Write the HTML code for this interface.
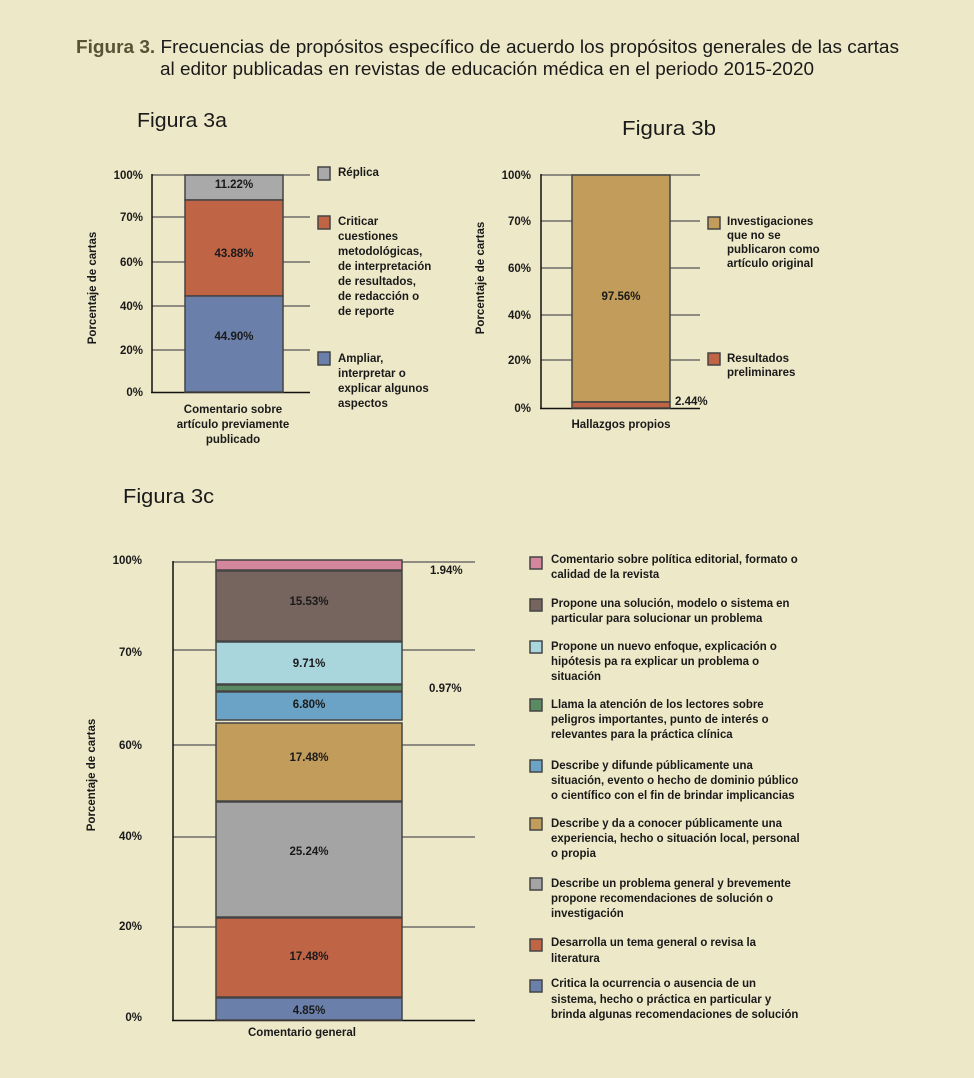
<!DOCTYPE html>
<html><head><meta charset="utf-8"><style>
html,body{margin:0;padding:0;background:#ede8c8;}
svg{display:block;}
text{font-family:"Liberation Sans",sans-serif;fill:#1a1a1a;}
.s{font-weight:bold;font-size:11.5px;}
.l{font-weight:bold;font-size:12px;}
</style></head><body>
<svg width="974" height="1078" viewBox="0 0 974 1078" xmlns="http://www.w3.org/2000/svg">
<rect width="974" height="1078" fill="#ede8c8"/>
<text x="76" y="53" font-size="18" textLength="823" lengthAdjust="spacingAndGlyphs"><tspan font-weight="bold" fill="#5a5236">Figura 3.</tspan> Frecuencias de propósitos específico de acuerdo los propósitos generales de las cartas</text>
<text x="160" y="75" font-size="18" textLength="654" lengthAdjust="spacingAndGlyphs">al editor publicadas en revistas de educación médica en el periodo 2015-2020</text>
<text x="137" y="127" font-size="20" textLength="90" lengthAdjust="spacingAndGlyphs">Figura 3a</text>
<text x="622" y="135" font-size="20" textLength="94" lengthAdjust="spacingAndGlyphs">Figura 3b</text>
<text x="123" y="503" font-size="20" textLength="91" lengthAdjust="spacingAndGlyphs">Figura 3c</text>

<!-- ===== 3a ===== -->
<g stroke="#555" stroke-width="1.3">
<line x1="152" y1="175" x2="310" y2="175"/><line x1="152" y1="217" x2="310" y2="217"/>
<line x1="152" y1="262" x2="310" y2="262"/><line x1="152" y1="306" x2="310" y2="306"/>
<line x1="152" y1="350" x2="310" y2="350"/>
</g>
<line x1="152" y1="174" x2="152" y2="393" stroke="#111" stroke-width="1.5"/>
<line x1="151" y1="392.5" x2="310" y2="392.5" stroke="#111" stroke-width="1.5"/>
<g stroke="#444" stroke-width="1.5">
<rect x="185" y="175" width="98" height="25" fill="#a9a9a9"/>
<rect x="185" y="200" width="98" height="96" fill="#c06446"/>
<rect x="185" y="296" width="98" height="96" fill="#6a80ab"/>
</g>
<g class="s" text-anchor="middle">
<text x="234" y="188">11.22%</text><text x="234" y="257">43.88%</text><text x="234" y="340">44.90%</text>
</g>
<g class="s" text-anchor="end">
<text x="143" y="179">100%</text><text x="143" y="221">70%</text><text x="143" y="266">60%</text>
<text x="143" y="310">40%</text><text x="143" y="354">20%</text><text x="143" y="396">0%</text>
</g>
<text class="s" transform="translate(96,288) rotate(-90)" text-anchor="middle">Porcentaje de cartas</text>
<g class="s" text-anchor="middle" font-weight="normal">
<text x="233" y="413">Comentario sobre</text><text x="233" y="428">artículo previamente</text><text x="233" y="443">publicado</text>
</g>
<g stroke="#444" stroke-width="1.5">
<rect x="318" y="167" width="12" height="13" fill="#a9a9a9"/>
<rect x="318" y="216" width="12" height="13" fill="#c06446"/>
<rect x="318" y="352" width="12" height="13" fill="#6a80ab"/>
</g>
<g class="s">
<text x="338" y="176">Réplica</text>
<text x="338" y="225">Criticar</text><text x="338" y="240">cuestiones</text><text x="338" y="255">metodológicas,</text>
<text x="338" y="270">de interpretación</text><text x="338" y="285">de resultados,</text><text x="338" y="300">de redacción o</text><text x="338" y="315">de reporte</text>
<text x="338" y="362">Ampliar,</text><text x="338" y="377">interpretar o</text><text x="338" y="392">explicar algunos</text><text x="338" y="407">aspectos</text>
</g>

<!-- ===== 3b ===== -->
<g stroke="#555" stroke-width="1.3">
<line x1="541" y1="175" x2="700" y2="175"/><line x1="541" y1="221" x2="700" y2="221"/>
<line x1="541" y1="268" x2="700" y2="268"/><line x1="541" y1="315" x2="700" y2="315"/>
<line x1="541" y1="360" x2="700" y2="360"/>
</g>
<line x1="541" y1="174" x2="541" y2="409" stroke="#111" stroke-width="1.5"/>
<line x1="540" y1="408.5" x2="700" y2="408.5" stroke="#111" stroke-width="1.5"/>
<g stroke="#444" stroke-width="1.5">
<rect x="572" y="175" width="98" height="227" fill="#c19c5a"/>
<rect x="572" y="402" width="98" height="6" fill="#c06446"/>
</g>
<text class="s" x="621" y="300" text-anchor="middle">97.56%</text>
<text class="s" x="675" y="405">2.44%</text>
<g class="s" text-anchor="end">
<text x="531" y="179">100%</text><text x="531" y="225">70%</text><text x="531" y="272">60%</text>
<text x="531" y="319">40%</text><text x="531" y="364">20%</text><text x="531" y="412">0%</text>
</g>
<text class="s" transform="translate(484,278) rotate(-90)" text-anchor="middle">Porcentaje de cartas</text>
<text class="s" x="621" y="428" text-anchor="middle" font-weight="normal">Hallazgos propios</text>
<g stroke="#444" stroke-width="1.5">
<rect x="708" y="217" width="12" height="12" fill="#c19c5a"/>
<rect x="708" y="353" width="12" height="12" fill="#c06446"/>
</g>
<g class="s">
<text x="727" y="225">Investigaciones</text><text x="727" y="239">que no se</text><text x="727" y="253">publicaron como</text><text x="727" y="267">artículo original</text>
<text x="727" y="362">Resultados</text><text x="727" y="376">preliminares</text>
</g>

<!-- ===== 3c ===== -->
<g stroke="#555" stroke-width="1.3">
<line x1="173" y1="562" x2="475" y2="562"/><line x1="173" y1="650" x2="475" y2="650"/>
<line x1="173" y1="745" x2="475" y2="745"/><line x1="173" y1="837" x2="475" y2="837"/>
<line x1="173" y1="927" x2="475" y2="927"/>
</g>
<line x1="173" y1="561" x2="173" y2="1021" stroke="#111" stroke-width="1.5"/>
<line x1="172" y1="1020.5" x2="475" y2="1020.5" stroke="#111" stroke-width="1.5"/>
<g stroke="#444" stroke-width="1.5">
<rect x="216" y="560" width="186" height="10" fill="#d4879c"/>
<rect x="216" y="571" width="186" height="70" fill="#76645e"/>
<rect x="216" y="642" width="186" height="42" fill="#a9d6dc"/>
<rect x="216" y="685" width="186" height="6" fill="#5a8a62"/>
<rect x="216" y="692" width="186" height="28" fill="#6aa3c6"/>
<rect x="216" y="723" width="186" height="78" fill="#c19c5a"/>
<rect x="216" y="802" width="186" height="115" fill="#a4a4a4"/>
<rect x="216" y="918" width="186" height="79" fill="#c06446"/>
<rect x="216" y="998" width="186" height="22" fill="#6a80ab"/>
</g>
<g class="s" text-anchor="middle">
<text x="309" y="605">15.53%</text><text x="309" y="667">9.71%</text><text x="309" y="708">6.80%</text>
<text x="309" y="761">17.48%</text><text x="309" y="855">25.24%</text><text x="309" y="960">17.48%</text>
<text x="309" y="1014">4.85%</text>
</g>
<text class="s" x="430" y="574">1.94%</text>
<text class="s" x="429" y="692">0.97%</text>
<g class="s" text-anchor="end">
<text x="142" y="564">100%</text><text x="142" y="656">70%</text><text x="142" y="749">60%</text>
<text x="142" y="840">40%</text><text x="142" y="930">20%</text><text x="142" y="1021">0%</text>
</g>
<text class="s" transform="translate(95,775) rotate(-90)" text-anchor="middle">Porcentaje de cartas</text>
<text class="s" x="302" y="1036" text-anchor="middle" font-weight="normal">Comentario general</text>

<g stroke="#444" stroke-width="1.5">
<rect x="530" y="557" width="12" height="12" fill="#d4879c"/>
<rect x="530" y="599" width="12" height="12" fill="#76645e"/>
<rect x="530" y="641" width="12" height="12" fill="#a9d6dc"/>
<rect x="530" y="699" width="12" height="12" fill="#5a8a62"/>
<rect x="530" y="760" width="12" height="12" fill="#6aa3c6"/>
<rect x="530" y="818" width="12" height="12" fill="#c19c5a"/>
<rect x="530" y="878" width="12" height="12" fill="#a4a4a4"/>
<rect x="530" y="939" width="12" height="12" fill="#c06446"/>
<rect x="530" y="980" width="12" height="12" fill="#6a80ab"/>
</g>
<g transform="translate(551,0) scale(0.95,1)" class="l">
<text x="0" y="563">Comentario sobre política editorial, formato o</text>
<text x="0" y="578">calidad de la revista</text>
<text x="0" y="607">Propone una solución, modelo o sistema en</text>
<text x="0" y="622">particular para solucionar un problema</text>
<text x="0" y="650">Propone un nuevo enfoque, explicación o</text>
<text x="0" y="665">hipótesis pa ra explicar un problema o</text>
<text x="0" y="680">situación</text>
<text x="0" y="708">Llama la atención de los lectores sobre</text>
<text x="0" y="723">peligros importantes, punto de interés o</text>
<text x="0" y="738">relevantes para la práctica clínica</text>
<text x="0" y="769">Describe y difunde públicamente una</text>
<text x="0" y="784">situación, evento o hecho de dominio público</text>
<text x="0" y="799">o científico con el fin de brindar implicancias</text>
<text x="0" y="827">Describe y da a conocer públicamente una</text>
<text x="0" y="842">experiencia, hecho o situación local, personal</text>
<text x="0" y="857">o propia</text>
<text x="0" y="887">Describe un problema general y brevemente</text>
<text x="0" y="902">propone recomendaciones de solución o</text>
<text x="0" y="917">investigación</text>
<text x="0" y="946">Desarrolla un tema general o revisa la</text>
<text x="0" y="962">literatura</text>
<text x="0" y="987">Critica la ocurrencia o ausencia de un</text>
<text x="0" y="1003">sistema, hecho o práctica en particular y</text>
<text x="0" y="1018">brinda algunas recomendaciones de solución</text>
</g>
</svg>
</body></html>
